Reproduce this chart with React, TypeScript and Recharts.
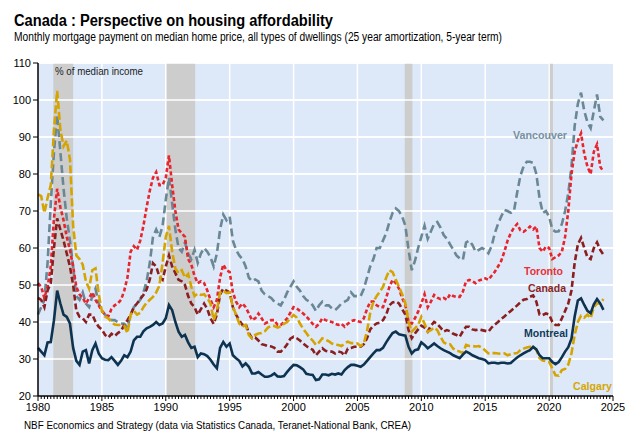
import React from "react";
import {
  LineChart,
  Line,
  XAxis,
  YAxis,
  CartesianGrid,
  ReferenceArea,
  ReferenceLine,
} from "recharts";

// quarterly values, 1980Q1 .. 2024Q2 (% of median income)
const vancouver = [
  42, 44, 46, 56, 72, 86, 96, 86, 76, 68, 62, 55, 47, 46, 48, 45,
  44, 47, 49, 45, 43, 42, 41, 40.5, 40.5, 40, 39.6, 39.5, 38.5, 42, 44, 45,
  46, 48, 51, 56, 63, 65, 63, 66, 73, 79, 72, 65, 60, 59, 61.5, 58.5,
  57, 59.5, 56, 58.5, 60, 59, 57.5, 55, 58.5, 65, 69, 67.5, 68.5, 62, 59.5, 58,
  57, 55, 52, 51, 51.5, 51, 48.5, 47.5, 47, 46.5, 45.5, 45, 44.5, 46, 48, 49.5,
  51, 49.5, 48.5, 47, 46, 45.5, 44.5, 43, 44.5, 45.5, 44.5, 44.5, 43.7, 43.2, 44, 45,
  45.5, 46, 48, 47, 47, 47, 49, 52, 55, 57, 60, 60, 62, 64, 67, 69.5,
  70.7, 70, 68.5, 66, 59.5, 54, 56.5, 60, 63, 66, 62.5, 64.5, 66.5, 67, 65.5, 63.5,
  62.5, 61, 59.5, 58, 57.2, 56.8, 61.5, 62, 60.8, 59, 59.5, 60, 59.5, 58.6, 60.5, 64,
  66.5, 68.5, 70.3, 70, 69.5, 70, 75, 79.5, 82, 83.3, 83.3, 83, 80, 73.5, 69.5, 70,
  68.5, 65, 64.4, 64.5, 66.5, 70, 74.8, 82, 93, 99, 102, 97, 94, 92.4, 97, 101.5,
  95.5, 94.5,
];

const toronto = [
  50.5, 49.5, 46.5, 49.5, 55, 68, 76, 71, 67.5, 63, 59.5, 55, 49.5, 47.5, 46.5, 45,
  46.5, 48, 46, 44.5, 43, 42, 41.5, 43.5, 44.5, 45, 46, 48.5, 52, 59, 60.5, 59.5,
  62, 66, 71, 75.5, 79, 80.5, 77, 77, 79, 85, 77, 70, 65, 64, 63, 57,
  55.5, 52.5, 50.5, 51, 50.5, 48.5, 46, 44, 46, 52, 55.5, 54, 53.5, 48, 45.5, 44,
  45, 44, 42.3, 40.5, 41, 42.3, 41, 39.6, 40, 40.5, 40.5, 39.2, 39.2, 40, 41, 42.5,
  44, 43.7, 43, 42.3, 41.5, 40.5, 39.5, 38.7, 39.5, 41, 40.5, 40.2, 40, 39.5, 39.2, 39.5,
  38.7, 39.5, 40.2, 40.5, 40.2, 40, 41, 43.5, 45.5, 45.5, 44.5, 44, 44, 46.5, 49.5, 51.4,
  50.5, 49, 46.5, 44.5, 40, 39.6, 41, 42.8, 45, 47.5, 44, 45.5, 47.3, 46.6, 46.2, 46.5,
  46, 47.5, 47, 46.8, 46.8, 48.2, 51, 51.4, 51, 50.5, 51.2, 51.5, 51.8, 51.4, 52.5, 53.6,
  55, 56.5, 59, 62, 64, 65.5, 66.5, 64.8, 64.4, 65, 65.8, 65, 65.8, 60, 59, 60.4,
  60, 57, 57.5, 58, 59, 63, 70, 80, 86, 89, 91, 85.5, 82, 80, 86, 88,
  82, 80.6,
];

const canada = [
  46.5, 46, 44, 48.5, 50.5, 60, 68, 65, 62, 58.5, 55, 50, 43, 41.4, 41, 40,
  42, 42, 40, 38.7, 38, 36.5, 35.8, 36.8, 36.2, 37, 37.6, 39.2, 40.5, 42, 44, 45,
  46.2, 47.3, 48.8, 51.5, 55.9, 55, 52.2, 51.4, 55, 58, 55, 53.2, 51.4, 51, 50, 47,
  45, 44, 42, 43.5, 45, 43.5, 41, 39.5, 42, 47.5, 49, 48.5, 48, 44, 42, 40.5,
  39.2, 39.5, 37, 35.6, 35.8, 35, 34, 33.8, 33.5, 33.4, 33, 32, 32, 32.8, 34, 35.5,
  36, 35.6, 35, 34.2, 33.5, 32.9, 32.5, 31, 32, 32.9, 32.2, 32, 32, 31.5, 32, 31.8,
  31, 32.8, 33, 33.3, 33.3, 33.3, 34, 35.6, 38, 39, 39.6, 39.8, 40.5, 42, 44.5, 45.3,
  45.5, 45, 43.5, 42, 37.8, 35.6, 36.9, 38, 39, 38.5, 37.4, 39, 40, 39.5, 38.5, 37.4,
  37.8, 37.5, 36.8, 36.5, 36, 37.5, 38.7, 38.7, 38, 37.8, 38, 37.8, 37.6, 37.4, 38.5, 39.3,
  40, 40.8, 41.5, 42.3, 43, 43.7, 44.5, 45.3, 46, 46.2, 46.8, 47.2, 45.5, 42, 41.9, 42.3,
  42, 40, 39.2, 39.2, 41, 43, 45, 48.5, 56, 61, 62.7, 60, 57.5, 57, 60, 61.5,
  59.5, 58.2,
];

const montreal = [
  33, 32, 31, 34.5, 34.6, 40.5, 48.5, 45, 42, 41.4, 39.6, 33, 29.5, 28.4, 32, 32.4,
  28.8, 32.4, 34.2, 31.5, 30.2, 29.8, 29.7, 30.5, 29.5, 28.4, 29.5, 31, 30.5, 32, 35, 36,
  36, 37.5, 38.3, 38.7, 39.2, 40, 39.2, 39.6, 41, 44.6, 43.2, 40, 37.4, 36, 36.5, 34.5,
  33, 33.3, 30.5, 31.5, 31.3, 30.8, 29.8, 28.5, 27.5, 33, 34.6, 33.3, 34.2, 31, 30.2, 29.5,
  28, 28.8, 27.9, 26.1, 26.1, 26.5, 25.8, 25.2, 25.2, 25.5, 26.1, 25.3, 25.2, 25.4, 26.5, 27.5,
  28.4, 28.3, 27.8, 27.2, 26, 25.8, 25.7, 24.3, 24.5, 25.8, 25.8, 25.6, 26, 25.8, 26.1, 25.8,
  27, 27.8, 28.4, 28.4, 28.2, 27.9, 28.5, 29.5, 30.5, 31.5, 32.4, 32.4, 33, 34.5, 35.8, 37,
  37.4, 36.7, 36.5, 36.3, 33.3, 31.5, 32.4, 32.6, 34.5, 33.8, 32.9, 33.5, 34.2, 33.5, 32.9, 32.4,
  32, 31.6, 31, 30.6, 30.2, 31.2, 32, 31.6, 31, 30.6, 30.2, 30, 29.7, 28.8, 29, 29,
  28.8, 29, 29, 28.8, 28.9, 29.7, 30.4, 31, 31.5, 32, 32.4, 33.3, 32.6, 31, 30.2, 30.2,
  30.2, 29.2, 28.6, 29.2, 30.5, 32, 33.2, 35.5, 41.5, 45.8, 46.4, 44.6, 43, 42.4, 44.8, 46.2,
  45, 43.3,
];

const calgary = [
  74.5, 74, 69.5, 73.5, 77, 92, 102.5, 92, 87.5, 89, 84, 66, 58, 57, 55.5, 51,
  49, 54, 54.5, 47.5, 43, 41.5, 41, 40, 39.3, 39.2, 39.2, 39, 37, 42, 43, 42,
  42.5, 44, 45.2, 46, 46.8, 48, 49.8, 56, 63, 66, 59, 54.5, 53.2, 54, 52, 53,
  49.5, 47, 47.7, 47.3, 47.5, 46.5, 45, 40.5, 43, 48, 48.5, 47.8, 48, 44, 42, 39.6,
  38.7, 39.2, 36.5, 35.6, 36.5, 36.9, 37, 37.5, 38.5, 39, 38.9, 38.5, 38.8, 39.5, 40, 41,
  41.9, 41.2, 39.6, 38.2, 37, 35.8, 35, 33.8, 34.5, 35.6, 35.2, 34.8, 34.2, 33.9, 33.8, 33.5,
  34.2, 34.7, 34.3, 34.3, 34.2, 33.5, 34.2, 37.5, 42.5, 45.5, 47, 48.2, 49.5, 52, 54, 53.5,
  51.5, 49.5, 47.5, 45, 40, 37.4, 38.3, 39.2, 41.4, 39.6, 37.4, 37.8, 38.5, 37.8, 36, 34.5,
  34, 34, 32.8, 32.3, 32, 31.6, 33.8, 33.5, 33.5, 33.4, 33.5, 33, 32.3, 31.5, 31.6, 31.6,
  31.5, 31.4, 31.5, 31, 31.3, 31.5, 31.6, 32.4, 32.8, 33.1, 33.3, 33.2, 32.5, 30.2, 29.6, 29.4,
  29.2, 27.5, 25.6, 25.5, 27, 27.3, 28.5, 31.5, 36.5, 40, 41.7, 41.2, 42, 41, 44, 45,
  45, 46.2,
];

// recessions (shaded)
const recessions = [
  [1981.2, 1982.75],
  [1990.0, 1992.3],
  [2008.7, 2009.3],
  [2019.95, 2020.3],
];

const yearLabels = [1980, 1985, 1990, 1995, 2000, 2005, 2010, 2015, 2020, 2025];
const yTicks = [20, 30, 40, 50, 60, 70, 80, 90, 100, 110];
const quarterTicks = Array.from({ length: 181 }, (_, i) => 1980 + i / 4);

const data = vancouver.map((v, i) => ({
  x: 1980 + i / 4,
  vancouver: v,
  toronto: toronto[i],
  canada: canada[i],
  montreal: montreal[i],
  calgary: calgary[i],
}));

const FONT = "'Liberation Sans', Arial, sans-serif";

function XTick(props: any) {
  const { x, y, payload } = props;
  const v = payload.value;
  const isMajor = yearLabels.some((t) => Math.abs(t - v) < 1e-6);
  return (
    <g>
      <line x1={x} x2={x} y1={y} y2={y + (isMajor ? 5 : 3)} stroke="#000" strokeWidth={1} />
      {isMajor && (
        <text x={x} y={y + 15} textAnchor="middle" fontSize={11} fontFamily={FONT} fill="#000">
          {v}
        </text>
      )}
    </g>
  );
}

export default function App() {
  return (
    <div
      style={{
        position: "absolute",
        left: 0,
        top: 0,
        width: 633,
        height: 436,
        background: "#fff",
        fontFamily: FONT,
      }}
    >
      <LineChart
        width={633}
        height={436}
        data={data}
        margin={{ top: 63, right: 20, bottom: 10, left: 0 }}
      >
        <CartesianGrid
          vertical={false}
          stroke="#ffffff"
          strokeWidth={1.5}
          fill="#dde9f9"
          fillOpacity={1}
        />
        {recessions.map(([a, b]) => (
          <ReferenceArea
            key={a}
            x1={a}
            x2={b}
            fill="#cdcdcd"
            fillOpacity={1}
            stroke="none"
          />
        ))}
        {yearLabels.slice(1, -1).map((yr) => (
          <ReferenceLine key={yr} x={yr} stroke="#ffffff" strokeWidth={1.5} />
        ))}
        {yTicks.slice(1).map((t) => (
          <ReferenceLine key={"h" + t} y={t} stroke="#ffffff" strokeWidth={1.5} />
        ))}
        <XAxis
          dataKey="x"
          type="number"
          domain={[1980, 2025]}
          ticks={quarterTicks}
          interval={0}
          tick={<XTick />}
          tickLine={false}
          tickSize={0}
          tickMargin={0}
          height={30}
          axisLine={{ stroke: "#000", strokeWidth: 1.5 }}
        />
        <YAxis
          domain={[20, 110]}
          ticks={yTicks}
          interval={0}
          width={38}
          tickSize={5}
          tickMargin={2}
          tick={{ fontSize: 11, fill: "#000", fontFamily: FONT }}
          tickLine={{ stroke: "#000" }}
          axisLine={{ stroke: "#000", strokeWidth: 1.5 }}
        />
        <Line
          dataKey="vancouver"
          stroke="#6a8796"
          strokeWidth={2.6}
          strokeDasharray="8 4"
          dot={false}
          isAnimationActive={false}
        />
        <Line
          dataKey="toronto"
          stroke="#e8242c"
          strokeWidth={2.6}
          strokeDasharray="4 2.5"
          dot={false}
          isAnimationActive={false}
        />
        <Line
          dataKey="canada"
          stroke="#8b1e1e"
          strokeWidth={2.6}
          strokeDasharray="6 3"
          dot={false}
          isAnimationActive={false}
        />
        <Line
          dataKey="calgary"
          stroke="#d6a400"
          strokeWidth={2.6}
          strokeDasharray="8 3"
          dot={false}
          isAnimationActive={false}
        />
        <Line
          dataKey="montreal"
          stroke="#0d3350"
          strokeWidth={2.6}
          dot={false}
          isAnimationActive={false}
        />
      </LineChart>

      <svg
        width={633}
        height={436}
        style={{ position: "absolute", left: 0, top: 0, pointerEvents: "none" }}
        fontFamily={FONT}
      >
        <text x={14} y={26} fontSize={16} fontWeight="bold" fill="#000" textLength={319} lengthAdjust="spacingAndGlyphs">
          Canada : Perspective on housing affordability
        </text>
        <text x={14} y={41} fontSize={12} fill="#000" textLength={488} lengthAdjust="spacingAndGlyphs">
          Monthly mortgage payment on median home price, all types of dwellings (25 year amortization, 5-year term)
        </text>
        <text x={55} y={74.5} fontSize={10} fill="#222" textLength={88} lengthAdjust="spacingAndGlyphs">
          % of median income
        </text>
        <text x={513} y={139} fontSize={11.5} fontWeight="bold" fill="#7891a0" textLength={54} lengthAdjust="spacingAndGlyphs">
          Vancouver
        </text>
        <text x={524} y={275} fontSize={11.5} fontWeight="bold" fill="#e8303a" textLength={39} lengthAdjust="spacingAndGlyphs">
          Toronto
        </text>
        <text x={528} y={292} fontSize={11.5} fontWeight="bold" fill="#8b2525" textLength={38} lengthAdjust="spacingAndGlyphs">
          Canada
        </text>
        <text x={524} y={336.5} fontSize={11.5} fontWeight="bold" fill="#113a5a" textLength={44} lengthAdjust="spacingAndGlyphs">
          Montreal
        </text>
        <text x={573} y={390} fontSize={11.5} fontWeight="bold" fill="#d6a700" textLength={39} lengthAdjust="spacingAndGlyphs">
          Calgary
        </text>
        <text x={24} y={429} fontSize={10} fill="#000" textLength={387} lengthAdjust="spacingAndGlyphs">
          NBF Economics and Strategy (data via Statistics Canada, Teranet-National Bank, CREA)
        </text>
      </svg>
    </div>
  );
}
